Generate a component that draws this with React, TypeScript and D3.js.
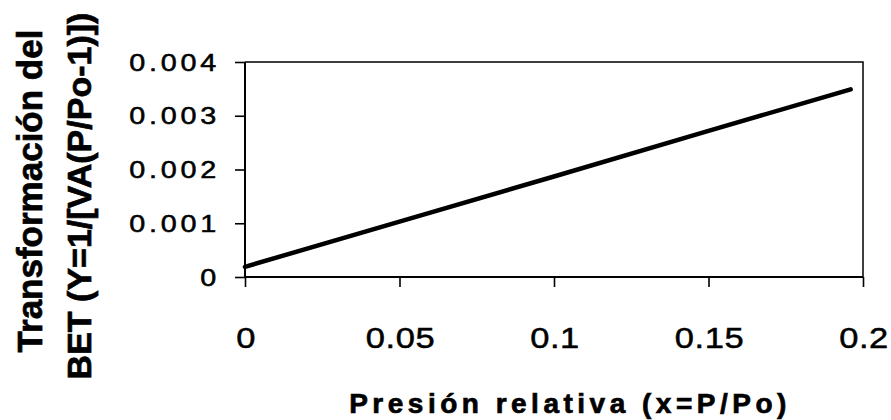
import React, { useRef, useEffect } from "react";
import * as d3 from "d3";

// relative pressure vs BET transform
const pressure = [0, 0.05, 0.1, 0.15, 0.196];
const betY = [0.00019, 0.00103, 0.00187, 0.00272, 0.00349];

const xTicks = [0, 0.05, 0.1, 0.15, 0.2];
const xTickLabels = ["0", "0.05", "0.1", "0.15", "0.2"];
const yTicks = [0, 0.001, 0.002, 0.003, 0.004];
const yTickLabels = ["0", "0.001", "0.002", "0.003", "0.004"];

const xTitle = "Presión relativa (x=P/Po)";
const yTitleLines = ["Transformación del", "BET (Y=1/[VA(P/Po-1)])"];

const FONT = "'Liberation Sans', Arial, sans-serif";

const App = () => {
  const svgRef = useRef<SVGSVGElement>(null);

  useEffect(() => {
    const svg = d3.select(svgRef.current);
    svg.selectAll("*").remove();
    const width = 891;
    const height = 420;
    const plot = { left: 245, right: 863, top: 62, bottom: 277 };

    svg.attr("width", width).attr("height", height);
    svg.append("rect").attr("width", width).attr("height", height).attr("fill", "#fff");

    const x = d3.scaleLinear().domain([0, 0.2]).range([plot.left, plot.right]);
    const y = d3.scaleLinear().domain([0, 0.004]).range([plot.bottom, plot.top]);

    // frame (top + right are thinner)
    svg
      .append("path")
      .attr("d", `M${plot.left},${plot.top}H${plot.right}V${plot.bottom}`)
      .attr("fill", "none")
      .attr("stroke", "#000")
      .attr("stroke-width", 1.5);

    const xAxis = svg
      .append("g")
      .attr("transform", `translate(0,${plot.bottom})`)
      .call(d3.axisBottom(x).tickValues(xTicks).tickSize(10).tickFormat(() => ""));
    const yAxis = svg
      .append("g")
      .attr("transform", `translate(${plot.left},0)`)
      .call(d3.axisLeft(y).tickValues(yTicks).tickSize(10).tickFormat(() => ""));

    [xAxis, yAxis].forEach((ax) => {
      ax.select(".domain").attr("stroke", "#000").attr("stroke-width", 2);
      ax.selectAll(".tick line").attr("stroke", "#000").attr("stroke-width", 1.6);
    });
    xAxis.select(".domain").attr("d", `M${plot.left},0H${plot.right}`);
    yAxis.select(".domain").attr("d", `M0,${plot.top}V${plot.bottom}`);

    // tick labels - scanned type is a bit wide, loosely spaced and heavy
    svg
      .append("g")
      .selectAll("text")
      .data(xTicks)
      .enter()
      .append("text")
      .attr("transform", (d) => `translate(${x(d) + 1},348) scale(1.15,1)`)
      .attr("text-anchor", "middle")
      .attr("font-family", FONT)
      .attr("font-size", 30)
      .attr("letter-spacing", 0.5)
      .attr("stroke", "#000")
      .attr("stroke-width", 0.5)
      .text((d, i) => xTickLabels[i]);

    svg
      .append("g")
      .selectAll("text")
      .data(yTicks)
      .enter()
      .append("text")
      .attr("transform", (d) => `translate(220,${y(d) + 8.5}) scale(1.25,1)`)
      .attr("text-anchor", "end")
      .attr("font-family", FONT)
      .attr("font-size", 23)
      .attr("letter-spacing", 3)
      .attr("stroke", "#000")
      .attr("stroke-width", 0.5)
      .text((d, i) => yTickLabels[i]);

    // data line
    const line = d3
      .line<number>()
      .x((d) => x(d))
      .y((d, i) => y(betY[i]));
    svg
      .append("path")
      .datum(pressure)
      .attr("d", line)
      .attr("fill", "none")
      .attr("stroke", "#000")
      .attr("stroke-width", 4.5)
      .attr("stroke-linecap", "round");

    // axis titles
    svg
      .append("text")
      .attr("x", 570)
      .attr("y", 413)
      .attr("text-anchor", "middle")
      .attr("font-family", FONT)
      .attr("font-weight", "bold")
      .attr("font-size", 28)
      .attr("letter-spacing", 4.5)
      .attr("stroke", "#000")
      .attr("stroke-width", 0.7)
      .text(xTitle);

    svg
      .append("g")
      .selectAll("text")
      .data(yTitleLines)
      .enter()
      .append("text")
      .attr("transform", (d, i) => `translate(${42 + i * 49},${191 + i * 5}) rotate(-90)`)
      .attr("text-anchor", "middle")
      .attr("font-family", FONT)
      .attr("font-weight", "bold")
      .attr("font-size", (d, i) => (i === 0 ? 35 : 34))
      .attr("stroke", "#000")
      .attr("stroke-width", 0.7)
      .text((d) => d);
  }, []);

  return <svg ref={svgRef} style={{ position: "absolute", left: 0, top: 0 }}></svg>;
};

export default App;
